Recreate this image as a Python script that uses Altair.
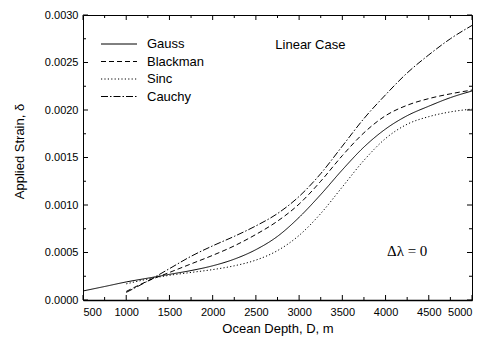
import altair as alt
import pandas as pd

# ---- data ----
depth_gauss = [500, 750, 1000, 1250, 1500, 1750, 2000, 2250, 2500, 2750,
               3000, 3250, 3500, 3750, 4000, 4250, 4500, 4750, 5000]
gauss = [0.000095, 0.000142, 0.00019, 0.00023, 0.00027, 0.00031, 0.00036, 0.00043,
         0.00053, 0.00067, 0.00087, 0.00111, 0.00137, 0.00161, 0.00180, 0.00194,
         0.00204, 0.00213, 0.00220]

depth_other = [1000, 1250, 1500, 1750, 2000, 2250, 2500, 2750, 3000, 3250,
               3500, 3750, 4000, 4250, 4500, 4750, 5000]
blackman = [0.00009, 0.00020, 0.00029, 0.00038, 0.00047, 0.00057, 0.00069, 0.00083,
            0.00101, 0.00125, 0.00152, 0.00176, 0.00194, 0.00205, 0.00212, 0.00217,
            0.00221]
sinc = [0.00017, 0.00022, 0.00026, 0.00029, 0.00032, 0.00036, 0.00042, 0.00052,
        0.00068, 0.00091, 0.00119, 0.00147, 0.00170, 0.00185, 0.00193, 0.00198,
        0.00201]
cauchy = [0.00008, 0.00020, 0.00033, 0.00046, 0.00057, 0.00067, 0.00078, 0.00091,
          0.00109, 0.00133, 0.00162, 0.00191, 0.00216, 0.00239, 0.00258, 0.00275,
          0.00289]

series_names = ["Gauss", "Blackman", "Sinc", "Cauchy"]
dash_styles = [[1, 0], [5, 3], [1.2, 2.2], [7, 2, 1.5, 2]]

x_major = [500, 1000, 1500, 2000, 2500, 3000, 3500, 4000, 4500, 5000]
x_minor = [750, 1250, 1750, 2250, 2750, 3250, 3750, 4250, 4750]
y_major = [0.0, 0.0005, 0.0010, 0.0015, 0.0020, 0.0025, 0.0030]
y_minor = [0.00025, 0.00075, 0.00125, 0.00175, 0.00225, 0.00275]

ann_text = ["Linear Case"]
ann_x = [3130]
ann_y = [0.00268]
delta_text = ["\u0394\u03bb = 0"]
delta_x = [4250]
delta_y = [0.00052]

W, H = 389, 285
FONT = "Liberation Sans"

# ---- build table ----
rows = []
for name, xs, ys in [("Gauss", depth_gauss, gauss), ("Blackman", depth_other, blackman),
                     ("Sinc", depth_other, sinc), ("Cauchy", depth_other, cauchy)]:
    for d, v in zip(xs, ys):
        rows.append({"series": name, "depth": d, "strain": v})
df = pd.DataFrame(rows)

xscale = alt.Scale(domain=[500, 5000], nice=False, zero=False)
yscale = alt.Scale(domain=[0, 0.003], nice=False, zero=False)

x_axis = alt.Axis(title="Ocean Depth, D, m", values=x_major, format="d",
                  ticks=False, grid=False, domain=True, domainColor="black",
                  domainWidth=1.5, labelFont=FONT, labelFontSize=11,
                  labelColor="black", labelPadding=6, titleFont=FONT,
                  titleFontSize=13, titleFontWeight="normal", titleColor="black",
                  titlePadding=5)
y_axis = alt.Axis(title="Applied Strain, \u03b4", values=y_major, format=".4f",
                  ticks=False, grid=False, domain=False, labelFont=FONT,
                  labelFontSize=11, labelColor="black", labelPadding=5,
                  titleFont=FONT, titleFontSize=13, titleFontWeight="normal",
                  titleColor="black", titlePadding=18, titleY=136)

def X(field):
    return alt.X(field, scale=xscale, axis=x_axis, title="Ocean Depth, D, m")

def Y(field):
    return alt.Y(field, scale=yscale, axis=y_axis, title="Applied Strain, \u03b4")

lines = alt.Chart(df).mark_line(color="black", strokeWidth=1, interpolate="monotone").encode(
    x=X("depth:Q"),
    y=Y("strain:Q"),
    strokeDash=alt.StrokeDash("series:N", scale=alt.Scale(domain=series_names, range=dash_styles),
                              legend=None),
    detail="series:N",
)

def xticks(vals, length, top):
    d = pd.DataFrame({"v": vals})
    if top:
        y1, y2 = 0, length
    else:
        y1, y2 = H, H - length
    return alt.Chart(d).mark_rule(color="black", strokeWidth=1).encode(
        x=X("v:Q"), y=alt.value(y1), y2=alt.value(y2))

def yticks(vals, length, right):
    d = pd.DataFrame({"v": vals})
    if right:
        x1, x2 = W, W - length
    else:
        x1, x2 = 0, length
    return alt.Chart(d).mark_rule(color="black", strokeWidth=1).encode(
        y=Y("v:Q"), x=alt.value(x1), x2=alt.value(x2))

tick_layers = [
    xticks(x_major, 5, False), xticks(x_minor, 3, False),
    xticks(x_major, 5, True), xticks(x_minor, 3, True),
    yticks(y_major, 5, False), yticks(y_minor, 3, False),
    yticks(y_major, 5, True), yticks(y_minor, 3, True),
]

# ---- legend (manual, top-left inside plot) ----
legend_layers = []
LX0, LX1, LY0, LSTEP = 18, 54, 29, 17.5
for i, (name, dash) in enumerate(zip(series_names, dash_styles)):
    yy = LY0 + LSTEP * i
    ld = pd.DataFrame({"series": [name]})
    legend_layers.append(
        alt.Chart(ld).mark_rule(color="black", strokeWidth=1, strokeDash=dash).encode(
            x=alt.value(LX0), x2=alt.value(LX1), y=alt.value(yy)))
    legend_layers.append(
        alt.Chart(ld).mark_text(font=FONT, fontSize=13, align="left", baseline="middle",
                                color="black").encode(
            x=alt.value(LX1 + 10), y=alt.value(yy), text="series:N"))

ann = alt.Chart(pd.DataFrame({"t": ann_text, "x": ann_x, "y": ann_y})).mark_text(
    font=FONT, fontSize=13, align="center", baseline="middle", color="black").encode(
    x=X("x:Q"), y=Y("y:Q"), text="t:N")

delta = alt.Chart(pd.DataFrame({"t": delta_text, "x": delta_x, "y": delta_y})).mark_text(
    font="Liberation Serif", fontSize=15, align="center", baseline="middle", color="black").encode(
    x=X("x:Q"), y=Y("y:Q"), text="t:N")

chart = alt.layer(lines, *tick_layers, *legend_layers, ann, delta).properties(
    width=W, height=H,
    padding={"left": 75, "top": 7, "right": 4, "bottom": 36},
    autosize=alt.AutoSizeParams(type="none"),
).configure_view(stroke="black", strokeWidth=1)

chart.save("out.html", embed_options={"renderer": "svg", "actions": False})
